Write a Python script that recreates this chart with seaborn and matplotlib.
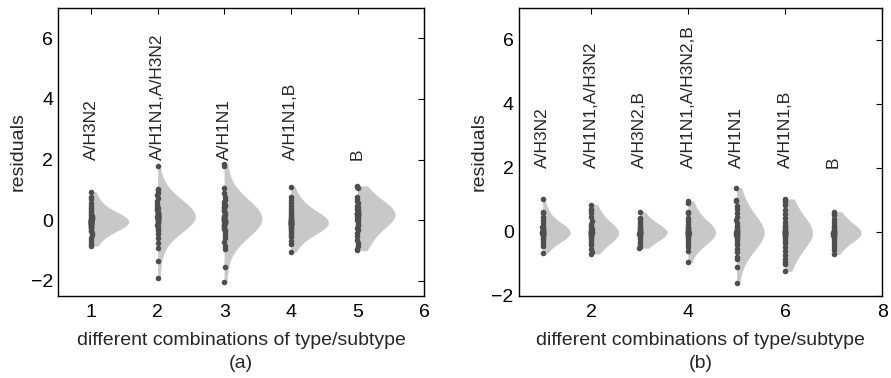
import numpy as np
import matplotlib
matplotlib.use("Agg")
import matplotlib.pyplot as plt
import pandas as pd
import seaborn as sns

# panel (a) residuals per type/subtype combination
a_labels = ["A/H3N2", "A/H1N1,A/H3N2", "A/H1N1", "A/H1N1,B", "B"]
a1 = [-0.85, -0.78, -0.7, -0.6, -0.5, -0.42, -0.36, -0.31, -0.27, -0.24, -0.21, -0.18, -0.16, -0.14,
      -0.12, -0.11, -0.1, -0.09, -0.08, -0.07, -0.06, -0.05, -0.04, -0.03, -0.02, -0.01, 0.0, 0.01,
      0.03, 0.05, 0.07, 0.09, 0.12, 0.15, 0.18, 0.22, 0.27, 0.33, 0.4, 0.48, 0.58, 0.7, 0.76, 0.93]
a2 = [-1.9, -1.35, -0.92, -0.75, -0.58, -0.46, -0.36, -0.28, -0.21, -0.15, -0.1, -0.06, -0.03, 0.0,
      0.02, 0.04, 0.06, 0.07, 0.08, 0.09, 0.1, 0.11, 0.12, 0.13, 0.14, 0.16, 0.18, 0.2, 0.22, 0.25,
      0.28, 0.32, 0.36, 0.41, 0.47, 0.54, 0.62, 0.72, 0.82, 0.9, 0.98, 1.02, 1.8]
a3 = [-2.05, -1.55, -0.95, -0.85, -0.72, -0.6, -0.5, -0.41, -0.34, -0.28, -0.23, -0.19, -0.15, -0.12,
      -0.09, -0.07, -0.05, -0.03, -0.02, -0.01, 0.0, 0.01, 0.02, 0.04, 0.06, 0.08, 0.11, 0.14, 0.18,
      0.23, 0.29, 0.35, 0.4, 0.44, 0.47, 0.5, 0.54, 0.6, 0.68, 0.78, 0.88, 1.05, 1.8, 1.85]
a4 = [-1.05, -0.78, -0.68, -0.57, -0.48, -0.41, -0.35, -0.3, -0.26, -0.22, -0.19, -0.16, -0.14, -0.12,
      -0.11, -0.1, -0.09, -0.08, -0.07, -0.06, -0.04, -0.02, 0.0, 0.02, 0.05, 0.08, 0.12, 0.17, 0.23,
      0.3, 0.38, 0.47, 0.57, 0.68, 0.76, 1.1]
a5 = [-1.0, -0.95, -0.86, -0.75, -0.64, -0.53, -0.43, -0.34, -0.26, -0.18, -0.11, -0.05, 0.0, 0.04,
      0.08, 0.11, 0.14, 0.16, 0.18, 0.19, 0.2, 0.21, 0.22, 0.23, 0.25, 0.27, 0.3, 0.33, 0.37, 0.42,
      0.48, 0.55, 0.63, 0.7, 0.75, 1.05, 1.1, 1.12]

# panel (b)
b_labels = ["A/H3N2", "A/H1N1,A/H3N2", "A/H3N2,B", "A/H1N1,A/H3N2,B", "A/H1N1", "A/H1N1,B", "B"]
b1 = [-0.65, -0.45, -0.36, -0.29, -0.23, -0.18, -0.14, -0.11, -0.09, -0.07, -0.05, -0.04, -0.03,
      -0.02, -0.01, 0.0, 0.01, 0.02, 0.04, 0.06, 0.08, 0.11, 0.15, 0.2, 0.27, 0.36, 0.47, 0.58,
      0.63, 1.02]
b2 = [-0.68, -0.62, -0.52, -0.42, -0.34, -0.27, -0.21, -0.16, -0.12, -0.09, -0.07, -0.05, -0.04,
      -0.03, -0.02, -0.01, 0.0, 0.02, 0.04, 0.07, 0.1, 0.14, 0.19, 0.26, 0.35, 0.46, 0.58, 0.68,
      0.72, 0.85]
b3 = [-0.5, -0.46, -0.38, -0.3, -0.23, -0.17, -0.12, -0.08, -0.06, -0.04, -0.03, -0.02, -0.01, 0.0,
      0.01, 0.03, 0.05, 0.08, 0.12, 0.17, 0.24, 0.32, 0.4, 0.45, 0.62]
b4 = [-0.95, -0.6, -0.47, -0.37, -0.29, -0.22, -0.16, -0.12, -0.08, -0.06, -0.04, -0.03, -0.02,
      -0.01, 0.0, 0.01, 0.03, 0.05, 0.08, 0.12, 0.17, 0.24, 0.33, 0.45, 0.58, 0.62, 0.92, 0.96]
b5 = [-1.6, -1.1, -0.85, -0.78, -0.64, -0.52, -0.42, -0.33, -0.26, -0.2, -0.15, -0.11, -0.08, -0.06,
      -0.04, -0.03, -0.02, -0.01, 0.0, 0.02, 0.04, 0.07, 0.1, 0.14, 0.2, 0.27, 0.36, 0.47, 0.6,
      0.72, 0.8, 0.97, 1.0, 1.38]
b6 = [-1.22, -1.0, -0.93, -0.86, -0.72, -0.58, -0.46, -0.36, -0.28, -0.21, -0.15, -0.11, -0.08,
      -0.06, -0.04, -0.03, -0.02, -0.01, 0.0, 0.02, 0.04, 0.07, 0.11, 0.16, 0.23, 0.32, 0.43, 0.56,
      0.7, 0.84, 0.95, 1.0, 1.02]
b7 = [-0.7, -0.57, -0.46, -0.37, -0.29, -0.22, -0.16, -0.12, -0.09, -0.07, -0.05, -0.04, -0.03,
      -0.02, -0.01, 0.0, 0.02, 0.04, 0.07, 0.11, 0.16, 0.23, 0.31, 0.41, 0.52, 0.6, 0.63]

VIOLIN_W = 0.56


def make_df(groups):
    rows = []
    for i, vals in enumerate(groups):
        for v in vals:
            rows.append((i + 1, v))
    df = pd.DataFrame(rows, columns=["group", "residual"])
    # split violins are drawn from pos - width/2, so shift them to start at the strip
    df["vpos"] = df["group"] + VIOLIN_W / 2
    df["side"] = True
    return df


def draw_panel(ax, groups, labels, xlim, ylim, xticks, yticks, tag):
    df = make_df(groups)
    sns.violinplot(data=df, x="vpos", y="residual", hue="side", hue_order=[False, True],
                   split=True, native_scale=True, inner=None, cut=0, width=VIOLIN_W,
                   density_norm="width", bw_adjust=1.5,
                   palette={False: "#c8c8ca", True: "#c8c8ca"},
                   linewidth=0.3, linecolor="#c8c8ca", legend=False, ax=ax, dodge=False)
    sns.stripplot(data=df, x="group", y="residual", native_scale=True, jitter=0.007,
                  color="#4e4e50", size=4, linewidth=0, ax=ax)
    for i, lab in enumerate(labels):
        ax.text(i + 1, 2, lab, rotation=90, ha="center", va="bottom", fontsize=12.5)
    ax.set_xlim(*xlim)
    ax.set_ylim(*ylim)
    ax.set_xticks(xticks)
    ax.set_yticks(yticks)
    ax.set_xticklabels([str(t) for t in xticks])
    ax.set_yticklabels([str(t).replace("-", "\u2212") for t in yticks])
    ax.tick_params(direction="in", top=True, right=True, length=4, labelsize=14,
                   colors="black", width=0.8)
    ax.tick_params(axis="x", pad=6)
    ax.set_xlabel("different combinations of type/subtype\n" + tag, fontsize=14,
                  linespacing=1.4, labelpad=8)
    ax.set_ylabel("residuals", fontsize=14, labelpad=3)
    for s in ax.spines.values():
        s.set_color("black")
        s.set_linewidth(1.0)


sns.set_style("white")
plt.rcParams["font.family"] = ["Liberation Sans", "DejaVu Sans"]
np.random.seed(3)

fig = plt.figure(figsize=(8.91, 3.78), dpi=100)
ax1 = fig.add_axes([0.065, 0.217, 0.411, 0.762])
ax2 = fig.add_axes([0.582, 0.217, 0.408, 0.762])

draw_panel(ax1, [a1, a2, a3, a4, a5], a_labels, (0.5, 6), (-2.5, 7),
           [1, 2, 3, 4, 5, 6], [-2, 0, 2, 4, 6], "(a)")
draw_panel(ax2, [b1, b2, b3, b4, b5, b6, b7], b_labels, (0.5, 8), (-2, 7),
           [2, 4, 6, 8], [-2, 0, 2, 4, 6], "(b)")

fig.savefig("out.png", dpi=100)
